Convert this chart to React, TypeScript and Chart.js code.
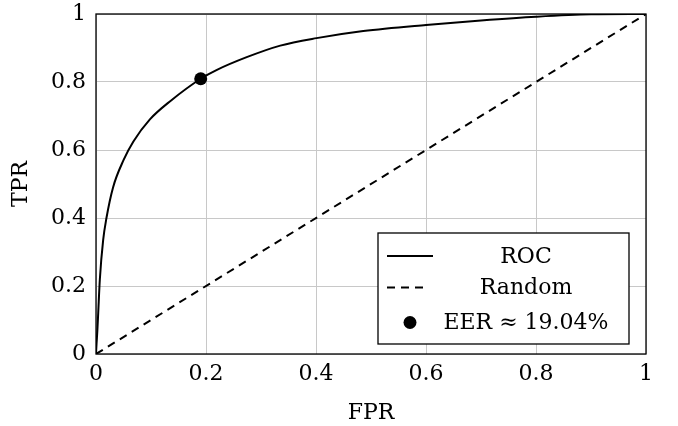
import React, { useEffect, useRef } from "react";
import { Chart, registerables } from "chart.js";

Chart.register(...registerables);

const rocFpr = [0, 0.001, 0.0025, 0.004, 0.007, 0.013, 0.019, 0.031, 0.05, 0.068, 0.098, 0.136, 0.1904, 0.219, 0.274, 0.335, 0.401, 0.486, 0.6, 0.7, 0.8, 0.9, 1];
const rocTpr = [0, 0.03, 0.07, 0.12, 0.22, 0.335, 0.4, 0.49, 0.57, 0.625, 0.69, 0.745, 0.8096, 0.835, 0.873, 0.907, 0.929, 0.95, 0.968, 0.981, 0.992, 0.999, 1];
const randomFpr = [0, 1];
const randomTpr = [0, 1];
const eerFpr = [0.1904];
const eerTpr = [0.8096];
const tickValues = [0, 0.2, 0.4, 0.6, 0.8, 1];
const tickLabels = ["0", "0.2", "0.4", "0.6", "0.8", "1"];
const legendLabels = ["ROC", "Random", "EER \u2248 19.04%"];
const xTitle = "FPR";
const yTitle = "TPR";

const FONT = "'DejaVu Serif', serif";
const FONT_SIZE = 22;

const framePlugin = {
  id: "frame",
  beforeDatasetsDraw(chart: any) {
    const { ctx, chartArea: ca } = chart;
    ctx.save();
    ctx.strokeStyle = "#000";
    ctx.lineWidth = 1.3;
    ctx.strokeRect(ca.left, ca.top, ca.right - ca.left, ca.bottom - ca.top);
    ctx.restore();
  },
};

const legendPlugin = {
  id: "boxLegend",
  afterDraw(chart: any) {
    const { ctx, chartArea: ca } = chart;
    const bx = ca.right - 268;
    const by = ca.bottom - 121;
    const bw = 251;
    const bh = 111;
    ctx.save();
    ctx.fillStyle = "#fff";
    ctx.fillRect(bx, by, bw, bh);
    ctx.strokeStyle = "#000";
    ctx.lineWidth = 1.3;
    ctx.strokeRect(bx, by, bw, bh);
    const rows = [by + 23, by + 54.5, by + 89.5];
    ctx.lineWidth = 2;
    ctx.setLineDash([]);
    ctx.beginPath();
    ctx.moveTo(bx + 9, rows[0]);
    ctx.lineTo(bx + 55, rows[0]);
    ctx.stroke();
    ctx.setLineDash([8, 6]);
    ctx.beginPath();
    ctx.moveTo(bx + 9, rows[1]);
    ctx.lineTo(bx + 51, rows[1]);
    ctx.stroke();
    ctx.setLineDash([]);
    ctx.fillStyle = "#000";
    ctx.beginPath();
    ctx.arc(bx + 32, rows[2], 6.5, 0, Math.PI * 2);
    ctx.fill();
    ctx.font = `${FONT_SIZE}px ${FONT}`;
    ctx.textAlign = "center";
    ctx.textBaseline = "middle";
    legendLabels.forEach((t, i) => {
      ctx.fillText(t, bx + 148, rows[i] + 1);
    });
    ctx.restore();
  },
};

export default function App() {
  const ref = useRef<HTMLCanvasElement | null>(null);
  useEffect(() => {
    if (!ref.current) return;
    const font = { family: FONT, size: FONT_SIZE };
    const chart = new Chart(ref.current, {
      type: "scatter",
      data: {
        datasets: [
          {
            label: legendLabels[0],
            data: rocFpr.map((x, i) => ({ x, y: rocTpr[i] })),
            showLine: true,
            borderColor: "#000",
            borderWidth: 2,
            pointRadius: 0,
            cubicInterpolationMode: "monotone",
            order: 2,
          },
          {
            label: legendLabels[1],
            data: randomFpr.map((x, i) => ({ x, y: randomTpr[i] })),
            showLine: true,
            borderColor: "#000",
            borderWidth: 2,
            borderDash: [8, 6],
            pointRadius: 0,
            order: 3,
          },
          {
            label: legendLabels[2],
            data: eerFpr.map((x, i) => ({ x, y: eerTpr[i] })),
            showLine: false,
            pointRadius: 6.5,
            pointBackgroundColor: "#000",
            pointBorderColor: "#000",
            borderWidth: 0,
            order: 1,
          },
        ],
      },
      options: {
        animation: false,
        responsive: true,
        maintainAspectRatio: false,
        layout: { padding: { left: 0, top: 14, right: 32, bottom: 0 } },
        plugins: { legend: { display: false }, tooltip: { enabled: false } },
        scales: {
          x: {
            type: "linear",
            min: 0,
            max: 1,
            afterBuildTicks: (s: any) => {
              s.ticks = tickValues.map((v) => ({ value: v }));
            },
            afterFit: (s: any) => {
              s.height = 72;
              s.paddingLeft = 0;
              s.paddingRight = 0;
            },
            ticks: {
              font,
              color: "#000",
              padding: 7,
              maxRotation: 0,
              callback: (v: any) => tickLabels[tickValues.indexOf(Number(v))] ?? String(v),
            },
            grid: { color: "#c8c8c8", lineWidth: 1, drawTicks: false },
            border: { display: false },
            title: { display: true, text: xTitle, font, color: "#000", padding: { top: 0, bottom: 0 } },
          },
          y: {
            type: "linear",
            min: 0,
            max: 1,
            afterBuildTicks: (s: any) => {
              s.ticks = tickValues.map((v) => ({ value: v }));
            },
            afterFit: (s: any) => {
              s.width = 96;
              s.paddingTop = 0;
              s.paddingBottom = 0;
            },
            ticks: {
              font,
              color: "#000",
              padding: 10,
              callback: (v: any) => tickLabels[tickValues.indexOf(Number(v))] ?? String(v),
            },
            grid: { color: "#c8c8c8", lineWidth: 1, drawTicks: false },
            border: { display: false },
            title: { display: true, text: yTitle, font, color: "#000", padding: { top: 8.5, bottom: 0 } },
          },
        },
      },
      plugins: [framePlugin, legendPlugin],
    } as any);
    return () => chart.destroy();
  }, []);
  return (
    <div style={{ position: "absolute", left: 0, top: 0, width: 678, height: 426, background: "#fff" }}>
      <canvas ref={ref} />
    </div>
  );
}
